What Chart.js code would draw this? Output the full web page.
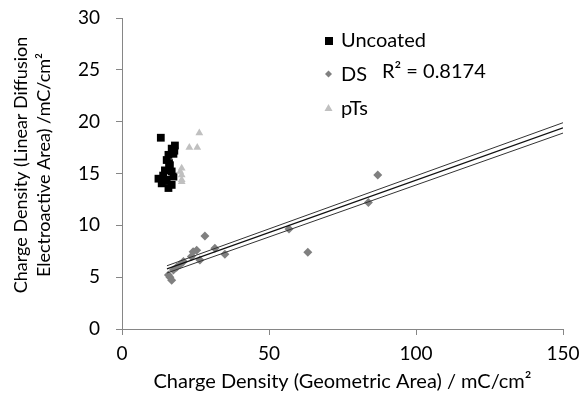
<!DOCTYPE html>
<html>
<head>
<meta charset="utf-8">
<script src="https://cdn.jsdelivr.net/npm/chart.js@4.4.1/dist/chart.umd.min.js"></script>
<style>
  html, body { margin: 0; padding: 0; background: #fff; }
  #grafico { width: 582px; height: 406px; }
</style>
</head>
<body>
<div id="grafico"><canvas id="lienzo" width="582" height="406"></canvas></div>
<script>
// datos
const uncoatedX = [13.2, 18.0, 16.9, 17.5, 15.8, 15.2, 16.3, 14.6, 16.9, 14.0, 17.5, 12.4, 15.2, 13.5, 15.8, 16.9, 17.8, 16.0, 14.8];
const uncoatedY = [18.45, 17.7, 17.4, 16.9, 16.8, 16.3, 15.8, 15.3, 15.2, 14.8, 14.7, 14.5, 14.4, 14.05, 13.6, 13.9, 17.2, 16.0, 14.3];

const dsX = [28.2, 31.6, 35.0, 25.4, 24.2, 23.6, 26.5, 20.9, 19.7, 17.5, 15.8, 16.9, 16.3, 18.6, 87.0, 83.8, 56.8, 63.2];
const dsY = [8.97, 7.8, 7.2, 7.6, 7.45, 7.0, 6.65, 6.5, 6.2, 5.7, 5.2, 4.7, 5.0, 5.95, 14.85, 12.2, 9.64, 7.4];

const ptsX = [26.3, 22.9, 25.6, 20.3, 20.3, 20.3, 20.3, 19.8];
const ptsY = [18.9, 17.5, 17.5, 15.5, 14.85, 14.4, 14.2, 15.2];

// lineas de tendencia (extremos)
const lineaX = [15.3, 150];
const lineaSup = [6.1, 19.9];
const lineaMed = [5.8, 19.4];
const lineaInf = [5.4, 18.9];

const ticksX = [0, 50, 100, 150];
const ticksY = [0, 5, 10, 15, 20, 25, 30];

const etiquetaR2 = 'R² = 0.8174';
const tituloY = ['Charge Density (Linear Diffusion', 'Electroactive Area) /mC/cm²'];

function aPuntos(xs, ys) {
  return xs.map((x, i) => ({ x: x, y: ys[i] }));
}

const fuente = 'Lato';

// leyenda, texto R2 y titulo del eje Y dibujados a mano
const leyendaPlugin = {
  id: 'leyendaInterna',
  afterDatasetsDraw(chart) {
    const ctx = chart.ctx;
    ctx.save();
    ctx.font = '20px ' + fuente;
    ctx.textBaseline = 'middle';
    ctx.textAlign = 'left';
    // Uncoated
    ctx.fillStyle = '#000';
    ctx.fillRect(325, 37, 8, 8);
    ctx.fillText('Uncoated', 341, 41);
    // DS
    ctx.fillStyle = '#808080';
    ctx.beginPath();
    ctx.moveTo(328.5, 70.5); ctx.lineTo(332, 74); ctx.lineTo(328.5, 77.5); ctx.lineTo(325, 74);
    ctx.closePath(); ctx.fill();
    ctx.fillStyle = '#000';
    ctx.fillText('DS', 341, 75);
    // pTs
    ctx.fillStyle = '#c0c0c0';
    ctx.beginPath();
    ctx.moveTo(328.5, 104); ctx.lineTo(332.5, 111); ctx.lineTo(324.5, 111);
    ctx.closePath(); ctx.fill();
    ctx.fillStyle = '#000';
    ctx.fillText('pTs', 341, 109);
    // R2
    ctx.fillText(etiquetaR2, 382, 72);

    // titulo eje Y
    ctx.font = '18px ' + fuente;
    ctx.textAlign = 'center';
    ctx.translate(0, 165);
    ctx.rotate(-Math.PI / 2);
    ctx.fillText(tituloY[0], 0, 21);
    ctx.fillText(tituloY[1], 0, 44);
    ctx.restore();
  }
};

const lineaComun = {
  type: 'line',
  showLine: true,
  pointRadius: 0,
  borderWidth: 1,
  fill: false,
  tension: 0
};

const grafico = new Chart(document.getElementById('lienzo'), {
  type: 'scatter',
  data: {
    datasets: [
      Object.assign({}, lineaComun, { label: 'sup', data: aPuntos(lineaX, lineaSup), borderColor: '#333' }),
      Object.assign({}, lineaComun, { label: 'med', data: aPuntos(lineaX, lineaMed), borderColor: '#111', borderWidth: 1.2 }),
      Object.assign({}, lineaComun, { label: 'inf', data: aPuntos(lineaX, lineaInf), borderColor: '#333' }),
      {
        label: 'DS',
        data: aPuntos(dsX, dsY),
        pointStyle: 'rectRot',
        pointRadius: 4.5,
        backgroundColor: '#808080',
        borderColor: '#808080',
        borderWidth: 0
      },
      {
        label: 'pTs',
        data: aPuntos(ptsX, ptsY),
        pointStyle: 'triangle',
        pointRadius: 4.5,
        backgroundColor: '#c0c0c0',
        borderColor: '#c0c0c0',
        borderWidth: 0
      },
      {
        label: 'Uncoated',
        data: aPuntos(uncoatedX, uncoatedY),
        pointStyle: 'rect',
        pointRadius: 5.5,
        backgroundColor: '#000',
        borderColor: '#000',
        borderWidth: 0
      }
    ]
  },
  options: {
    responsive: false,
    animation: false,
    layout: { padding: { top: 18, right: 19, left: 0, bottom: 0 } },
    plugins: {
      legend: { display: false },
      tooltip: { enabled: false }
    },
    scales: {
      x: {
        type: 'linear',
        min: 0,
        max: 150,
        afterBuildTicks: (s) => { s.ticks = ticksX.map(v => ({ value: v })); },
        afterFit: (s) => { s.height = 77; s.paddingLeft = 0; s.paddingRight = 0; },
        grid: { display: true, drawOnChartArea: false, drawTicks: true, tickLength: 6, color: '#868686' },
        border: { display: true, color: '#868686', width: 1 },
        ticks: { color: '#000', font: { family: fuente, size: 19 }, padding: 7, maxRotation: 0 },
        title: {
          display: true,
          text: 'Charge Density (Geometric Area) / mC/cm²',
          color: '#000',
          font: { family: fuente, size: 20 },
          padding: { top: 0, bottom: 12 }
        }
      },
      y: {
        type: 'linear',
        min: 0,
        max: 30,
        afterBuildTicks: (s) => { s.ticks = ticksY.map(v => ({ value: v })); },
        afterFit: (s) => { s.width = 122; s.paddingTop = 0; s.paddingBottom = 0; },
        grid: { display: true, drawOnChartArea: false, drawTicks: true, tickLength: 6, color: '#868686' },
        border: { display: true, color: '#868686', width: 1 },
        ticks: { color: '#000', font: { family: fuente, size: 19 }, padding: 16 },
        title: { display: false }
      }
    }
  },
  plugins: [leyendaPlugin]
});
</script>
</body>
</html>
